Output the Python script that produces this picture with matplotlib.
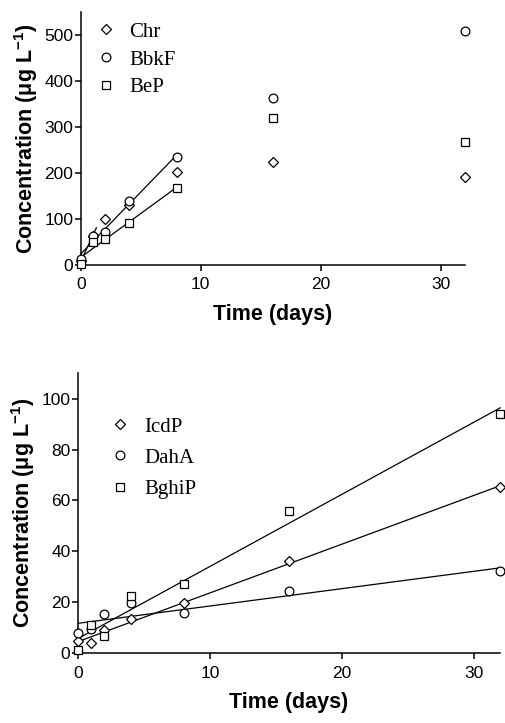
import matplotlib
matplotlib.use("Agg")
import matplotlib.pyplot as plt
import numpy as np

plt.rcParams['font.family'] = ['Liberation Sans', 'DejaVu Sans']
plt.rcParams['mathtext.fontset'] = 'custom'
plt.rcParams['mathtext.rm'] = 'Liberation Sans:bold'
plt.rcParams['mathtext.default'] = 'rm'

# sampling times (days)
days = np.array([0, 1, 2, 4, 8, 16, 32])

# upper panel: Chr, BbkF, BeP (ug/L)
chr_vals = np.array([8, 64, 100, 130, 202, 224, 192])
bbkf_vals = np.array([14, 63, 72, 140, 235, 363, 509])
bep_vals = np.array([3, 50, 57, 92, 167, 319, 267])

# lower panel: IcdP, DahA, BghiP (ug/L)
icdp_vals = np.array([4.7, 4.0, 9.2, 13.2, 19.5, 36.2, 65.2])
daha_vals = np.array([8.0, 9.3, 15.5, 19.5, 15.8, 24.2, 32.3])
bghip_vals = np.array([1.2, 11.0, 6.8, 22.5, 27.3, 55.8, 93.8])

YLABEL = 'Concentration (μg L$^{-1}$)'
XLABEL = 'Time (days)'


def fit_line(ax, x, y, n_pts, x_end):
    # least-squares line through the first n_pts samples
    k, b = np.polyfit(x[:n_pts], y[:n_pts], 1)
    xx = np.array([0, x_end])
    ax.plot(xx, k * xx + b, color='black', lw=0.9, clip_on=False, zorder=2)


def style_axes(ax, ymax, yticks):
    ax.set_xlim(0, 32)
    ax.set_ylim(0, ymax)
    ax.set_xticks([0, 10, 20, 30])
    ax.set_yticks(yticks)
    for s in ('top', 'right'):
        ax.spines[s].set_visible(False)
    for s in ('left', 'bottom'):
        ax.spines[s].set_linewidth(1.1)
    ax.tick_params(direction='out', length=4.5, width=1.1, labelsize=12.5)
    ax.tick_params(axis='x', pad=4.5)
    ax.tick_params(axis='y', pad=1)
    ax.set_xlabel(XLABEL, fontsize=15.5, fontweight='bold', labelpad=8)
    ax.set_ylabel(YLABEL, fontsize=15.5, fontweight='bold', labelpad=3)


def scatter(ax, x, y, marker, ms, label):
    ax.plot(x, y, linestyle='none', marker=marker, markersize=ms,
            markerfacecolor='white', markeredgecolor='black',
            markeredgewidth=0.9, label=label, clip_on=False, zorder=3)


def add_legend(ax, anchor, spacing):
    ax.legend(loc='upper left', bbox_to_anchor=anchor, frameon=False,
              prop={'family': 'Liberation Serif', 'size': 15},
              labelspacing=spacing, handletextpad=0.55, handlelength=1.2,
              borderpad=0, borderaxespad=0)


fig = plt.figure(figsize=(5.05, 7.23), dpi=100)
ax1 = fig.add_axes([0.160, 0.6335, 0.760, 0.350])
ax2 = fig.add_axes([0.1545, 0.0968, 0.836, 0.387])

# top panel
fit_line(ax1, days, chr_vals, 2, 1.3)
fit_line(ax1, days, bbkf_vals, 5, 8)
fit_line(ax1, days, bep_vals, 5, 8)
scatter(ax1, days, chr_vals, 'D', 5.5, 'Chr')
scatter(ax1, days, bbkf_vals, 'o', 6.3, 'BbkF')
scatter(ax1, days, bep_vals, 's', 6.0, 'BeP')
style_axes(ax1, 550, [0, 100, 200, 300, 400, 500])
add_legend(ax1, (0.032, 0.96), 0.4)

# bottom panel
fit_line(ax2, days, icdp_vals, 7, 32)
fit_line(ax2, days, daha_vals, 7, 32)
fit_line(ax2, days, bghip_vals, 7, 32)
scatter(ax2, days, icdp_vals, 'D', 5.5, 'IcdP')
scatter(ax2, days, daha_vals, 'o', 6.3, 'DahA')
scatter(ax2, days, bghip_vals, 's', 6.0, 'BghiP')
style_axes(ax2, 110, [0, 20, 40, 60, 80, 100])
add_legend(ax2, (0.070, 0.843), 0.55)

fig.savefig('out.png', dpi=100)
